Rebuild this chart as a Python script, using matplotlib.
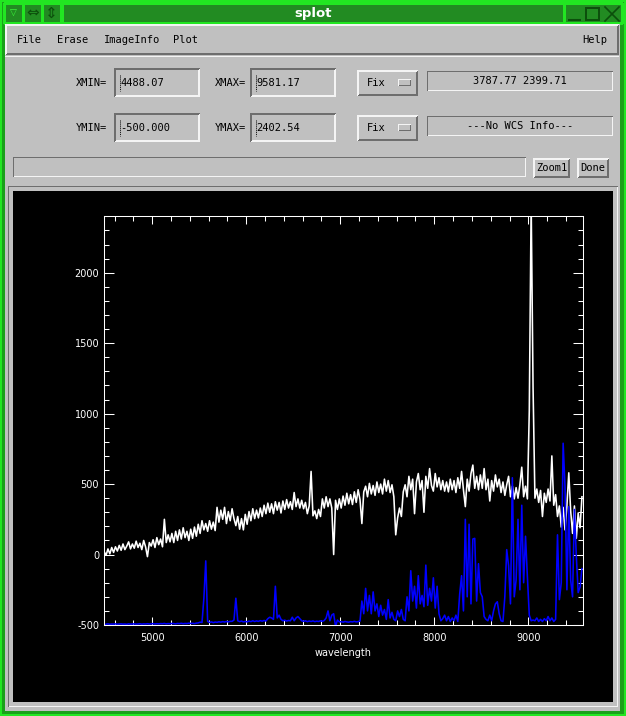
import numpy as np
import matplotlib
matplotlib.use("Agg")
import matplotlib.pyplot as plt
from matplotlib.patches import Rectangle, Polygon
from matplotlib.ticker import MultipleLocator

plt.rcParams["axes.unicode_minus"] = False

# --- spectrum (20 A bins) ---
WAVE_START, WAVE_STEP = 4490, 20
FLUX = [
    20, -5, 40, 5, 50, 15, 55, 25, 65, 30, 75, 35, 60, 90, 40, 75, 45, 95, 50, 80, 35, 100, 55, -15, 85,
    60, 105, 50, 120, 70, 110, 55, 250, 85, 140, 90, 150, 85, 165, 100, 175, 110, 190, 120, 165, 100, 180, 115, 195, 130,
    215, 150, 240, 175, 220, 165, 240, 180, 230, 170, 335, 230, 315, 250, 335, 220, 305, 240, 325, 255, 205, 270, 180, 255, 175,
    285, 215, 305, 240, 325, 255, 315, 260, 330, 270, 350, 290, 365, 300, 360, 290, 375, 315, 370, 295, 380, 320, 390, 330, 375,
    320, 440, 340, 395, 330, 385, 325, 370, 290, 345, 590, 275, 310, 255, 320, 270, 395, 330, 410, 340, 395, 330, 0, 385, 320,
    395, 330, 415, 350, 435, 360, 425, 355, 445, 370, 460, 390, 220, 445, 485, 410, 505, 430, 490, 420, 515, 440, 500, 430, 535,
    450, 525, 440, 495, 410, 140, 260, 330, 270, 445, 495, 410, 555, 460, 535, 290, 515, 575, 460, 525, 300, 555, 470, 610, 490,
    450, 575, 480, 545, 460, 525, 450, 515, 445, 535, 460, 525, 440, 545, 470, 590, 460, 340, 535, 450, 575, 635, 470, 555, 460,
    565, 470, 610, 460, 535, 380, 525, 450, 565, 480, 535, 440, 515, 420, 495, 555, 410, 485, 395, 475, 400, 495, 620, 410, 485,
    395, 1020, 2500, 1190, 400, 465, 370, 455, 270, 435, 370, 465, 380, 700, 350, 425, 270, 345, 195, 335, 175, 345, 580, 310, 150,
    345, 115, 295, 190, 410,
]
SKY = [
    -505, -494, -492, -495, -493, -494, -492, -495, -493, -492, -494, -493, -495, -492, -494, -493, -492, -494, -493, -491, -494, -492, -493, -491, -493,
    -492, -490, -493, -491, -492, -490, -491, -489, -492, -490, -491, -489, -490, -492, -489, -490, -488, -491, -489, -490, -487, -489, -488, -490, -487,
    -485, -480, -482, -310, -45, -475, -482, -478, -483, -479, -481, -477, -480, -476, -479, -475, -478, -474, -474, -465, -310, -470, -476, -472, -478,
    -474, -478, -472, -476, -470, -475, -471, -474, -469, -473, -468, -472, -455, -445, -450, -460, -225, -450, -430, -460, -470, -466, -472, -468, -470,
    -445, -470, -450, -440, -455, -470, -474, -470, -476, -472, -475, -471, -476, -473, -475, -470, -474, -468, -450, -400, -470, -430, -420, -510, -465,
    -478, -476, -480, -475, -478, -480, -476, -478, -474, -478, -476, -472, -330, -420, -240, -400, -290, -420, -265, -400, -350, -440, -360, -430, -390,
    -460, -320, -450, -410, -460, -470, -400, -440, -390, -460, -470, -300, -400, -115, -330, -225, -380, -150, -350, -290, -370, -75, -360, -240, -330,
    -165, -380, -225, -420, -470, -455, -430, -470, -440, -475, -450, -470, -430, -475, -280, -150, -400, 250, -300, 215, -350, 110, 115, -330, -65,
    -270, -300, -440, -460, -470, -430, -470, -400, -350, -335, -420, -470, -475, -300, 35, -80, -350, 545, -300, -180, 250, -250, 350, -200, 130,
    -160, -430, -470, -465, -470, -450, -475, -460, -475, -455, -470, -440, -470, -450, -475, -460, 140, -320, -200, 790, 480, -250, 340, -180, -300,
    320, -10, -270, -230, -100,
]
wave = WAVE_START + WAVE_STEP * np.arange(len(FLUX))

XMIN, XMAX = 4488.07, 9581.17
YMIN, YMAX = -500.000, 2402.54
CURSOR_TXT = "3787.77 2399.71"
WCS_TXT = "---No WCS Info---"
MENU = [("File", 17), ("Erase", 57), ("ImageInfo", 104), ("Plot", 173)]

GREY = "#c0c0c0"
LIGHT = "#f4f4f4"
DARK = "#6e6e6e"
GREEN = "#228b22"
BRIGHT = "#22e622"
ICON = "#0c4f0c"
UI_FONT = dict(family="DejaVu Sans Mono", fontsize=7.5, color="black")

W, H = 626, 716
fig = plt.figure(figsize=(W / 100, H / 100), dpi=100)
ui = fig.add_axes([0, 0, 1, 1])
ui.set_xlim(0, W)
ui.set_ylim(H, 0)
ui.axis("off")


def box(x0, y0, x1, y1, fc):
    ui.add_patch(Rectangle((x0, y0), x1 - x0, y1 - y0, fc=fc, ec="none", antialiased=False))


def bevel(x0, y0, x1, y1, raised=True, t=2, face=GREY):
    hi, lo = (LIGHT, DARK) if raised else (DARK, LIGHT)
    box(x0, y0, x1, y1, lo)
    ui.add_patch(Polygon([(x0, y0), (x1, y0), (x1 - t, y0 + t), (x0 + t, y0 + t),
                          (x0 + t, y1 - t), (x0, y1)], closed=True, fc=hi, ec="none",
                         antialiased=False))
    box(x0 + t, y0 + t, x1 - t, y1 - t, face)


def outline(x0, y0, x1, y1, color, lw=1.0):
    ui.add_patch(Rectangle((x0, y0), x1 - x0, y1 - y0, fill=False, ec=color, lw=lw,
                           antialiased=False))


# window frame + title bar
box(0, 0, W, H, BRIGHT)
box(2, 2, W - 2, H - 2, "#1aa01a")
box(3, 3, W - 3, 24, GREEN)
for x0, x1 in [(4, 23), (23, 42), (42, 61), (62, 564), (564, 622)]:
    outline(x0, 3, x1, 23, BRIGHT)
ui.text(13, 13, "\u25bd", color="#3cff3c", fontsize=6.5, ha="center", va="center")
ui.text(32.5, 13, "\u21d4", color=ICON, fontsize=11, ha="center", va="center")
ui.text(51.5, 13, "\u21d5", color=ICON, fontsize=11, ha="center", va="center")
ui.text(313, 13, "splot", color="white", fontsize=9.5, fontweight="bold",
        ha="center", va="center")
ui.plot([568, 581], [20, 20], color=ICON, lw=1.5, solid_capstyle="butt")
outline(586, 8, 599, 20, ICON, lw=1.2)
ui.plot([605, 619], [7, 21], color=ICON, lw=1.2)
ui.plot([605, 619], [21, 7], color=ICON, lw=1.2)

# body + menu bar
box(5, 24, 620, 711, GREY)
bevel(5, 24, 619, 55, raised=True, t=2)
box(5, 56, 619, 57, LIGHT)
for name, x in MENU:
    ui.text(x, 40, name, ha="left", va="center", **UI_FONT)
ui.text(607, 40, "Help", ha="right", va="center", **UI_FONT)

# range fields
rows = [(83, "XMIN=", XMIN, "XMAX=", XMAX, CURSOR_TXT, "%.2f"),
        (128, "YMIN=", YMIN, "YMAX=", YMAX, WCS_TXT, "%.3f")]
for yc, lab1, v1, lab2, v2, info, fmt in rows:
    for xl, xb0, xb1, lab, v, f in [(107, 114, 200, lab1, v1, fmt), (246, 250, 336, lab2, v2, "%.2f")]:
        ui.text(xl, yc, lab, ha="right", va="center", **UI_FONT)
        bevel(xb0, yc - 15, xb1, yc + 14, raised=False, t=2)
        ui.plot([xb0 + 5.5, xb0 + 5.5], [yc - 8, yc + 8], color="black", lw=0.7, ls=(0, (1, 1)))
        ui.text(xb0 + 6, yc, f % v, ha="left", va="center", **UI_FONT)
    bevel(357, yc - 13, 418, yc + 13, raised=True, t=2)
    ui.text(376, yc, "Fix", ha="center", va="center", **UI_FONT)
    bevel(398, yc - 4, 411, yc + 3, raised=True, t=1)
    bevel(427, yc - 12, 613, yc + 8, raised=False, t=1)
    ui.text(520, yc - 2, info, ha="center", va="center", **UI_FONT)

bevel(13, 157, 526, 177, raised=False, t=1)
bevel(533, 158, 570, 178, raised=True, t=2)
ui.text(551.5, 168, "Zoom1", ha="center", va="center", **UI_FONT)
bevel(577, 158, 609, 178, raised=True, t=2)
ui.text(593, 168, "Done", ha="center", va="center", **UI_FONT)

# drawing area
bevel(8, 186, 618, 707, raised=False, t=1)
box(13, 191, 613, 702, "black")

# --- the plot itself ---
ax = fig.add_axes([104 / W, 91 / H, 479 / W, 409 / H], facecolor="black")
ax.plot(wave, FLUX, color="white", lw=1.15)
ax.plot(wave, SKY, color="#0000ff", lw=1.15)
ax.set_xlim(XMIN, XMAX)
ax.set_ylim(YMIN, YMAX)
ax.xaxis.set_major_locator(MultipleLocator(1000))
ax.xaxis.set_minor_locator(MultipleLocator(200))
ax.yaxis.set_major_locator(MultipleLocator(500))
ax.yaxis.set_minor_locator(MultipleLocator(100))
ax.tick_params(which="both", direction="in", top=True, right=True, colors="white",
               labelsize=7, width=0.75)
ax.tick_params(axis="x", which="major", length=6, pad=6)
ax.tick_params(axis="y", which="major", length=7.2, pad=3.5)
ax.tick_params(which="minor", length=3.3)
for s in ax.spines.values():
    s.set_color("white")
    s.set_linewidth(0.75)
ax.set_xlabel("wavelength", color="white", fontsize=7, labelpad=3)

fig.savefig("out.png", dpi=100, facecolor=GREY)
